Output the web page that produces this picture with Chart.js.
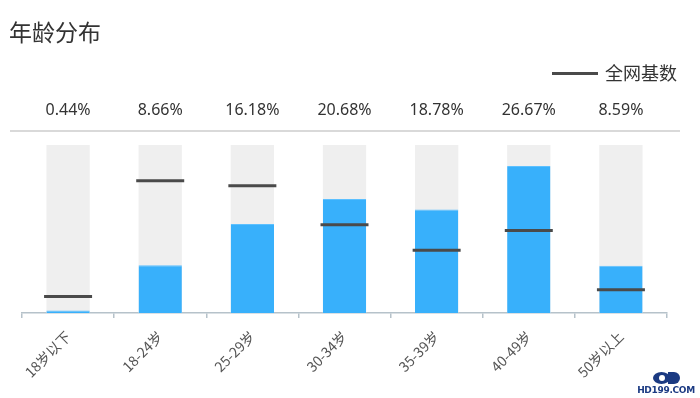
<!DOCTYPE html>
<html>
<head>
<meta charset="utf-8">
<script src="https://cdn.jsdelivr.net/npm/chart.js@4/dist/chart.umd.min.js"></script>
<style>
  html, body { margin: 0; padding: 0; background: #fff; }
  #wrap { position: relative; width: 700px; height: 398px; overflow: hidden;
          font-family: "Noto Sans CJK SC", "Noto Sans", sans-serif; }
  #title { position: absolute; left: 9px; top: 14px; font-size: 23px; color: #333; }
  #legend { position: absolute; left: 552px; top: 59px; font-size: 18px; color: #333; }
  #legend .swatch { display: inline-block; width: 46px; height: 3px; background: #4a4a4a;
                    vertical-align: middle; margin-right: 7px; position: relative; top: -2px; }
  #mark { position: absolute; left: 636px; top: 372px; width: 60px; text-align: center; }
  #mark .eye { position: relative; width: 27px; height: 12px; margin: 0 auto 1px; }
  #mark .eye .l { position: absolute; left: 0; top: 0; width: 17px; height: 12px; border-radius: 50%; background: #1b3a82; }
  #mark .eye .r { position: absolute; left: 15px; top: 0; width: 12px; height: 12px; border-radius: 0 50% 50% 0; background: #1b3a82; }
  #mark .eye .p { position: absolute; left: 6px; top: 3px; width: 6px; height: 6px; border-radius: 50%; background: #fff; }
  #mark .txt { font: bold 9px "DejaVu Sans", Arial, sans-serif; color: #1b3a82; letter-spacing: -0.3px; }
  canvas { position: absolute; left: 0; top: 0; }
</style>
</head>
<body>
<div id="wrap">
  <canvas id="ageChart" width="700" height="398"></canvas>
  <div id="title">年龄分布</div>
  <div id="legend"><span class="swatch"></span>全网基数</div>
  <div id="mark"><div class="eye"><div class="l"></div><div class="r"></div><div class="p"></div></div><div class="txt">HD199.COM</div></div>
</div>
<script>
const categories = ['18岁以下', '18-24岁', '25-29岁', '30-34岁', '35-39岁', '40-49岁', '50岁以上'];
const shares = [0.44, 8.66, 16.18, 20.68, 18.78, 26.67, 8.59];
const baseline = [3.0, 24.0, 23.1, 16.0, 11.4, 15.0, 4.2];
const yMax = 30.5;
const track = categories.map(() => yMax);

// percentages above the bars and the thin separator line
const topLabels = {
  id: 'topLabels',
  afterDraw(chart) {
    const ctx = chart.ctx;
    const x = chart.scales.x;
    ctx.save();
    ctx.strokeStyle = '#cccccc';
    ctx.lineWidth = 1.5;
    ctx.beginPath();
    ctx.moveTo(10, 131);
    ctx.lineTo(680, 131);
    ctx.stroke();
    ctx.fillStyle = '#333';
    ctx.font = '16px "Noto Sans", "Open Sans", sans-serif';
    ctx.textAlign = 'center';
    ctx.textBaseline = 'middle';
    shares.forEach((v, i) => {
      ctx.fillText(v.toFixed(2) + '%', x.getPixelForValue(i), 110);
    });
    ctx.restore();
  }
};

const ctx = document.getElementById('ageChart').getContext('2d');
new Chart(ctx, {
  data: {
    labels: categories,
    datasets: [
      { type: 'line', label: '全网基数', data: baseline, showLine: false, pointStyle: 'line',
        pointRadius: 24, pointHoverRadius: 24, pointBorderWidth: 3, pointHoverBorderWidth: 3,
        pointBorderColor: '#4a4a4a', borderColor: '#4a4a4a', order: 0 },
      { type: 'bar', label: '占比', data: shares, backgroundColor: '#38b0fb',
        borderColor: '#5cc0ff', borderWidth: { top: 1 }, borderSkipped: 'bottom',
        grouped: false, barPercentage: 0.47, categoryPercentage: 1, order: 1 },
      { type: 'bar', label: 'bg', data: track, backgroundColor: '#efefef',
        grouped: false, barPercentage: 0.47, categoryPercentage: 1, order: 2 }
    ]
  },
  options: {
    responsive: false,
    animation: false,
    layout: { autoPadding: false, padding: { left: 22, right: 33, top: 145, bottom: 0 } },
    scales: {
      x: {
        offset: true,
        grid: { offset: true, drawOnChartArea: false, drawTicks: true, tickLength: 5, color: '#b6c2ca', lineWidth: 1.5 },
        border: { display: true, color: '#b6c2ca', width: 1.5 },
        ticks: { minRotation: 45, maxRotation: 45, padding: 10, color: '#555',
                 font: { size: 14, family: '"Noto Sans CJK SC", "Noto Sans", sans-serif' } },
        afterFit: (scale) => { scale.height = 85; }
      },
      y: { display: false, min: 0, max: yMax }
    },
    plugins: { legend: { display: false }, tooltip: { enabled: false } }
  },
  plugins: [topLabels]
});
</script>
</body>
</html>
